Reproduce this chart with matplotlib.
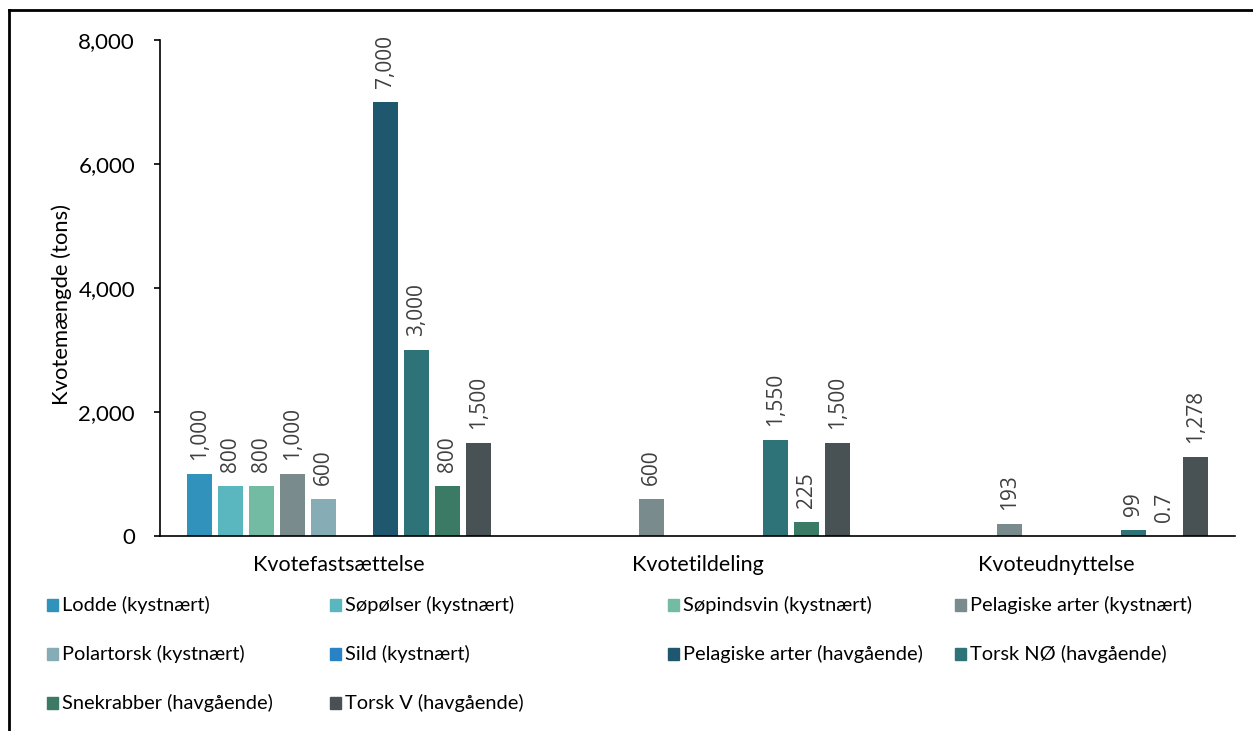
import numpy as np
import matplotlib.pyplot as plt
from matplotlib.patches import Rectangle
from matplotlib.ticker import FuncFormatter

categories = ['Kvotefastsættelse', 'Kvotetildeling', 'Kvoteudnyttelse']

series_names = ['Lodde (kystnært)', 'Søpølser (kystnært)', 'Søpindsvin (kystnært)',
                'Pelagiske arter (kystnært)', 'Polartorsk (kystnært)', 'Sild (kystnært)',
                'Pelagiske arter (havgående)', 'Torsk NØ (havgående)',
                'Snekrabber (havgående)', 'Torsk V (havgående)']

nan = np.nan
lodde = [1000, nan, nan]
sopolser = [800, nan, nan]
sopindsvin = [800, nan, nan]
pelagiske_kyst = [1000, 600, 193]
polartorsk = [600, nan, nan]
sild = [nan, nan, nan]
pelagiske_hav = [7000, nan, nan]
torsk_no = [3000, 1550, 99]
snekrabber = [800, 225, 0.7]
torsk_v = [1500, 1500, 1278]

series_values = [lodde, sopolser, sopindsvin, pelagiske_kyst, polartorsk, sild,
                 pelagiske_hav, torsk_no, snekrabber, torsk_v]

colors = ['#3193BB', '#5AB7C0', '#73BCA3', '#798B8C', '#86ACB6', '#2A82C6',
          '#1F586E', '#2E7378', '#3B7B66', '#485254']

fig = plt.figure(figsize=(12.53, 7.31), dpi=100)
ax = fig.add_axes([0.1277, 0.2668, 0.8583, 0.6785])

step = 0.0866
width = 0.07
x = np.arange(len(categories))
n = len(series_names)


def fmt_label(v):
    if v == int(v):
        return f'{int(v):,}'
    return f'{v:g}'


for i, (vals, c) in enumerate(zip(series_values, colors)):
    pos = x + (i - (n - 1) / 2) * step
    ax.bar(pos, vals, width, color=c)
    for p, v in zip(pos, vals):
        if np.isnan(v):
            continue
        ax.annotate(fmt_label(v), (p, v), xytext=(0, 10), textcoords='offset points',
                    rotation=90, ha='center', va='bottom', fontsize=15,
                    color='#404040', family='Open Sans')

ax.set_xlim(-0.5, 2.5)
ax.set_ylim(0, 8000)
ax.set_yticks([0, 2000, 4000, 6000, 8000])
ax.yaxis.set_major_formatter(FuncFormatter(lambda v, p: f'{int(v):,}'))
ax.set_xticks(x)
ax.set_xticklabels(categories)
ax.tick_params(axis='x', length=0, pad=14, labelsize=15.5)
ax.tick_params(axis='y', length=4, width=1.2, pad=14, labelsize=16)
for lab in ax.get_xticklabels() + ax.get_yticklabels():
    lab.set_family('Lato')
ax.set_ylabel('Kvotemængde (tons)', fontsize=15.8, family='Lato', va='center')
ax.yaxis.set_label_coords(-0.091, 0.466)

ax.spines['top'].set_visible(False)
ax.spines['right'].set_visible(False)
ax.spines['left'].set_linewidth(1.2)
ax.spines['bottom'].set_linewidth(1.2)

# legend laid out like the original, four entries per row
col_x = [47, 330, 668, 955]
row_y = [605, 654, 703]
W, H = 1253, 731
for i, (name, c) in enumerate(zip(series_names, colors)):
    cx = col_x[i % 4]
    cy = row_y[i // 4]
    fig.patches.append(Rectangle((cx / W, 1 - (cy + 6) / H), 11 / W, 12 / H,
                                 transform=fig.transFigure, color=c))
    fig.text((cx + 15) / W, 1 - cy / H, name, fontsize=14.4, family='Lato',
             va='center', ha='left', color='#000000')

# outer frame (only top and left edges show in the image)
fig.add_artist(plt.Line2D([9 / W, 1.0], [1 - 10 / H, 1 - 10 / H],
                          transform=fig.transFigure, color='black', lw=2))
fig.add_artist(plt.Line2D([9 / W, 9 / W], [0, 1 - 10 / H],
                          transform=fig.transFigure, color='black', lw=2))

fig.savefig('out.png', dpi=100)
